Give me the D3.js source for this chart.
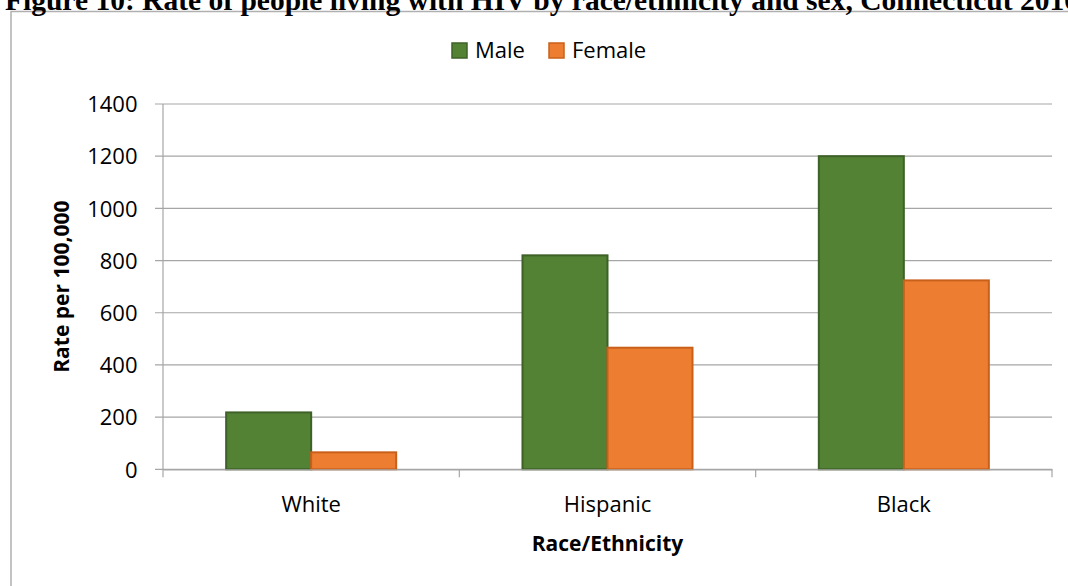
<!DOCTYPE html>
<html><head><meta charset="utf-8">
<script src="https://cdn.jsdelivr.net/npm/d3@7"></script>
<style>body{margin:0;background:#fff;overflow:hidden}</style>
</head><body>
<svg id="c" width="1068" height="586"></svg>
<script>
const categories = ["White", "Hispanic", "Black"];
const series = ["Male", "Female"];
const maleValues = [218, 820, 1200];
const femaleValues = [65, 466, 724];
const yTicks = [0, 200, 400, 600, 800, 1000, 1200, 1400];
const titleText = "Figure 10: Rate of people living with HIV by race/ethnicity and sex, Connecticut 2016";
const yTitle = "Rate per 100,000";
const xTitle = "Race/Ethnicity";

const fills = {Male: "#548235", Female: "#ED7D31"};
const strokes = {Male: "#3d6127", Female: "#c9601a"};
const font = "'Open Sans', 'Noto Sans', sans-serif";

const svg = d3.select("#c");
const L = 163, R = 1052, T = 104, B = 469.3;

// outer frame
svg.append("rect").attr("x", 11).attr("y", 11.5).attr("width", 1100).attr("height", 700)
  .attr("fill", "#fff").attr("stroke", "#b0b0b0").attr("stroke-width", 1.5);

// title (clipped at top and right like the reference)
svg.append("text").attr("x", 5).attr("y", 9.5).text(titleText)
  .attr("font-family", "'Liberation Serif', 'Times New Roman', serif")
  .attr("font-weight", "bold").attr("font-size", 29.5).attr("fill", "#000");

const y = d3.scaleLinear().domain([0, 1400]).range([B, T]);
const x0 = d3.scaleBand().domain(categories).range([L, R]).paddingInner(0).paddingOuter(0);
const groupW = x0.bandwidth() * 170 / 296.3;
const x1 = d3.scaleBand().domain(series).range([0, groupW]).padding(0);

// gridlines
svg.append("g").selectAll("line").data(yTicks).join("line")
  .attr("x1", L - 8).attr("x2", R).attr("y1", d => y(d)).attr("y2", d => y(d))
  .attr("stroke", "#a6a6a6").attr("stroke-width", 1.2);

// y axis line
svg.append("line").attr("x1", L).attr("x2", L).attr("y1", T).attr("y2", B)
  .attr("stroke", "#a6a6a6").attr("stroke-width", 1.2);

// y tick labels
const yAxis = d3.axisLeft(y).tickValues(yTicks).tickFormat(d3.format("d")).tickSize(0).tickPadding(25.5);
const yg = svg.append("g").attr("transform", `translate(${L},0)`).call(yAxis);
yg.select(".domain").remove();
yg.selectAll("text").attr("font-family", font).attr("font-size", 22).attr("fill", "#000").attr("dy", "0.35em");

// bars
const data = categories.map((c, i) => ({c, vals: [{s: "Male", v: maleValues[i]}, {s: "Female", v: femaleValues[i]}]}));
const g = svg.append("g").selectAll("g").data(data).join("g")
  .attr("transform", d => `translate(${x0(d.c) + (x0.bandwidth() - groupW) / 2},0)`);
g.selectAll("rect").data(d => d.vals).join("rect")
  .attr("x", d => x1(d.s)).attr("width", x1.bandwidth())
  .attr("y", d => y(d.v)).attr("height", d => B - y(d.v))
  .attr("fill", d => fills[d.s]).attr("stroke", d => strokes[d.s]).attr("stroke-width", 2);

// x axis
const xAxis = d3.axisBottom(x0).tickSize(0).tickPadding(27.4);
const xg = svg.append("g").attr("transform", `translate(0,${B})`).call(xAxis);
xg.select(".domain").attr("stroke", "#a6a6a6").attr("stroke-width", 1.2);
xg.selectAll("text").attr("font-family", font).attr("font-size", 22).attr("fill", "#000");
// category boundary ticks
const bounds = categories.map(c => x0(c)).concat([R]);
svg.append("g").selectAll("line").data(bounds).join("line")
  .attr("x1", d => d).attr("x2", d => d).attr("y1", B).attr("y2", B + 8)
  .attr("stroke", "#a6a6a6").attr("stroke-width", 1.2);

// axis titles
svg.append("text").attr("transform", `translate(69,${(T + B) / 2}) rotate(-90)`)
  .attr("text-anchor", "middle").text(yTitle)
  .attr("font-family", font).attr("font-weight", "bold").attr("font-size", 21);
svg.append("text").attr("x", (L + R) / 2).attr("y", 551).attr("text-anchor", "middle").text(xTitle)
  .attr("font-family", font).attr("font-weight", "bold").attr("font-size", 21);

// legend
const leg = svg.append("g");
const legX = [452, 549];
series.forEach((s, i) => {
  leg.append("rect").attr("x", legX[i]).attr("y", 43).attr("width", 15).attr("height", 15)
    .attr("fill", fills[s]).attr("stroke", strokes[s]).attr("stroke-width", 1.5);
  leg.append("text").attr("x", legX[i] + 23).attr("y", 57.7).text(s)
    .attr("font-family", font).attr("font-size", 22).attr("fill", "#000");
});
</script>
</body></html>
